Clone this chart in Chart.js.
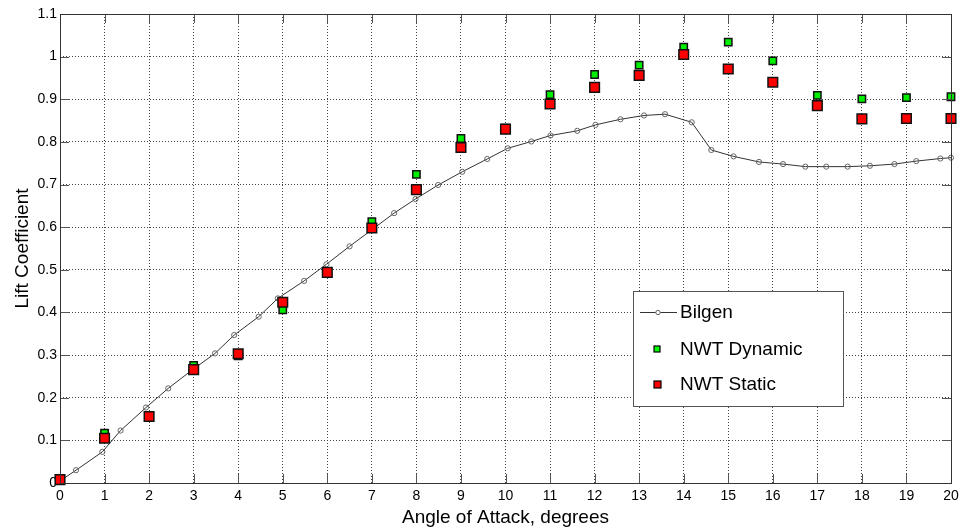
<!DOCTYPE html>
<html>
<head>
<meta charset="utf-8">
<script src="https://cdn.jsdelivr.net/npm/chart.js@4/dist/chart.umd.min.js"></script>
<style>
  html, body { margin: 0; padding: 0; background: #fff; }
  #wrap { width: 961px; height: 532px; position: relative; }
</style>
</head>
<body>
<div id="wrap"><canvas id="lift_chart" width="961" height="532"></canvas></div>
<script>
// Bilgen reference curve
var bilgen_alpha = [0, 0.36, 0.95, 1.36, 1.93, 2.43, 2.94, 3.48, 3.91, 4.46, 4.89, 5.48, 5.98,
  6.5, 7.0, 7.5, 7.98, 8.49, 9.03, 9.59, 10.05, 10.58, 11.01, 11.61, 12.02, 12.58, 13.11,
  13.58, 14.18, 14.62, 15.12, 15.69, 16.23, 16.73, 17.2, 17.68, 18.18, 18.73, 19.22, 19.76, 20];
var bilgen_cl = [0.005, 0.03, 0.073, 0.123, 0.177, 0.222, 0.263, 0.304, 0.347, 0.39, 0.433, 0.474, 0.513,
  0.555, 0.594, 0.633, 0.666, 0.699, 0.73, 0.76, 0.785, 0.801, 0.815, 0.826, 0.84, 0.853, 0.862,
  0.865, 0.846, 0.781, 0.766, 0.753, 0.748, 0.742, 0.742, 0.742, 0.744, 0.748, 0.755, 0.761, 0.763];

// NWT results at whole degrees
var nwt_alpha = [0, 1, 2, 3, 4, 5, 6, 7, 8, 9, 10, 11, 12, 13, 14, 15, 16, 17, 18, 19, 20];
var dynamic_cl = [0.008, 0.117, 0.157, 0.276, 0.298, 0.406, 0.495, 0.613, 0.724, 0.808, 0.832,
  0.911, 0.958, 0.98, 1.022, 1.034, 0.99, 0.909, 0.901, 0.904, 0.906];
var static_cl = [0.008, 0.105, 0.156, 0.266, 0.303, 0.424, 0.494, 0.598, 0.688, 0.787, 0.83,
  0.889, 0.928, 0.956, 1.005, 0.971, 0.94, 0.885, 0.854, 0.855, 0.855];

var x_ticks = [0, 1, 2, 3, 4, 5, 6, 7, 8, 9, 10, 11, 12, 13, 14, 15, 16, 17, 18, 19, 20];
var y_ticks = [0, 0.1, 0.2, 0.3, 0.4, 0.5, 0.6, 0.7, 0.8, 0.9, 1, 1.1];

function pairs(xs, ys) {
  var out = [];
  for (var i = 0; i < xs.length; i++) out.push({ x: xs[i], y: ys[i] });
  return out;
}

var FONT = "'Liberation Sans', Arial, Helvetica, sans-serif";

// box + inward ticks like the matlab axes, drawn over the markers
var framePlugin = {
  id: "frame",
  afterDatasetsDraw: function (chart) {
    var ctx = chart.ctx, a = chart.chartArea;
    var xs = chart.scales.x, ys = chart.scales.y;
    ctx.save();
    ctx.strokeStyle = "#555";
    ctx.lineWidth = 1;
    ctx.beginPath();
    x_ticks.forEach(function (v) {
      var px = Math.round(xs.getPixelForValue(v)) + 0.5;
      ctx.moveTo(px, a.bottom); ctx.lineTo(px, a.bottom - 9);
      ctx.moveTo(px, a.top); ctx.lineTo(px, a.top + 9);
    });
    y_ticks.forEach(function (v) {
      var py = Math.round(ys.getPixelForValue(v)) + 0.5;
      ctx.moveTo(a.left, py); ctx.lineTo(a.left + 9, py);
      ctx.moveTo(a.right, py); ctx.lineTo(a.right - 9, py);
    });
    ctx.stroke();
    ctx.strokeStyle = "#333";
    ctx.strokeRect(Math.round(a.left) + 0.5, Math.round(a.top) + 0.5,
      Math.round(a.right - a.left), Math.round(a.bottom - a.top));
    ctx.restore();
  },
  afterDraw: function (chart) {
    // legend box in the lower right of the axes
    var ctx = chart.ctx;
    var bx = 633, by = 291, bw = 210, bh = 115;
    ctx.save();
    ctx.fillStyle = "#fff";
    ctx.fillRect(bx, by, bw, bh);
    ctx.strokeStyle = "#555";
    ctx.lineWidth = 1;
    ctx.strokeRect(bx + 0.5, by + 0.5, bw, bh);

    ctx.font = "19px " + FONT;
    ctx.fillStyle = "#000";
    ctx.textBaseline = "middle";
    var rows = [312, 349, 384];
    var labels = ["Bilgen", "NWT Dynamic", "NWT Static"];

    ctx.strokeStyle = "#333";
    ctx.beginPath();
    ctx.moveTo(640, rows[0] + 0.5); ctx.lineTo(677, rows[0] + 0.5);
    ctx.stroke();
    ctx.beginPath();
    ctx.arc(658, rows[0] + 0.5, 2.2, 0, Math.PI * 2);
    ctx.fillStyle = "#fff"; ctx.fill();
    ctx.strokeStyle = "#666"; ctx.stroke();

    ctx.fillStyle = "#00ff00";
    ctx.fillRect(654, rows[1] - 3, 6, 6);
    ctx.strokeStyle = "#000"; ctx.lineWidth = 1.2;
    ctx.strokeRect(654, rows[1] - 3, 6, 6);
    ctx.fillStyle = "#ff0000";
    ctx.fillRect(654, rows[2] - 3, 7, 7);
    ctx.strokeRect(654, rows[2] - 3, 7, 7);

    ctx.fillStyle = "#000";
    for (var i = 0; i < labels.length; i++) ctx.fillText(labels[i], 680, rows[i] + 1);
    ctx.restore();
  }
};

var ctx = document.getElementById("lift_chart").getContext("2d");
var myChart = new Chart(ctx, {
  type: "scatter",
  data: {
    datasets: [
      {
        label: "Bilgen",
        data: pairs(bilgen_alpha, bilgen_cl),
        showLine: true,
        borderColor: "#333",
        borderWidth: 1,
        pointStyle: "circle",
        pointRadius: 2.6,
        pointBorderColor: "#666",
        pointBorderWidth: 1,
        pointBackgroundColor: "rgba(255,255,255,0)",
        order: 3,
        clip: false
      },
      {
        label: "NWT Dynamic",
        data: pairs(nwt_alpha, dynamic_cl),
        pointStyle: "rect",
        pointRadius: 5.2,
        pointBorderColor: "#111",
        pointBorderWidth: 1.5,
        pointBackgroundColor: "#00ee00",
        order: 2,
        clip: false
      },
      {
        label: "NWT Static",
        data: pairs(nwt_alpha, static_cl),
        pointStyle: "rect",
        pointRadius: 6.8,
        pointBorderColor: "#111",
        pointBorderWidth: 1.5,
        pointBackgroundColor: "#ff0000",
        order: 1,
        clip: false
      }
    ]
  },
  options: {
    responsive: false,
    animation: false,
    devicePixelRatio: 1,
    layout: { padding: { left: 0, top: 14, right: 10, bottom: 0 } },
    plugins: {
      legend: { display: false },
      tooltip: { enabled: false }
    },
    elements: { point: { hoverRadius: 0 } },
    scales: {
      x: {
        type: "linear",
        min: 0,
        max: 20,
        afterBuildTicks: function (scale) {
          scale.ticks = x_ticks.map(function (v) { return { value: v }; });
        },
        afterFit: function (scale) {
          scale.height = 49;
          scale.paddingRight = 0;
          scale.paddingLeft = 0;
        },
        grid: {
          color: "#444",
          lineWidth: 1,
          drawTicks: false
        },
        border: { display: false, dash: [1, 2] },
        ticks: {
          color: "#000",
          font: { family: FONT, size: 14 },
          padding: 5,
          maxRotation: 0,
          autoSkip: false
        },
        title: {
          display: true,
          text: "Angle of Attack, degrees",
          color: "#000",
          font: { family: FONT, size: 19 },
          padding: { top: 0, bottom: 3 }
        }
      },
      y: {
        type: "linear",
        min: 0,
        max: 1.1,
        afterBuildTicks: function (scale) {
          scale.ticks = y_ticks.map(function (v) { return { value: v }; });
        },
        afterFit: function (scale) {
          scale.width = 60;
          scale.paddingTop = 0;
          scale.paddingBottom = 0;
        },
        grid: {
          color: "#444",
          lineWidth: 1,
          drawTicks: false
        },
        border: { display: false, dash: [1, 2] },
        ticks: {
          color: "#000",
          font: { family: FONT, size: 14 },
          padding: 3,
          autoSkip: false,
          callback: function (v) { return String(Math.round(v * 10) / 10); }
        },
        title: {
          display: true,
          text: "Lift Coefficient",
          color: "#000",
          font: { family: FONT, size: 19 },
          padding: { top: 11, bottom: 0 }
        }
      }
    }
  },
  plugins: [framePlugin]
});
</script>
</body>
</html>
